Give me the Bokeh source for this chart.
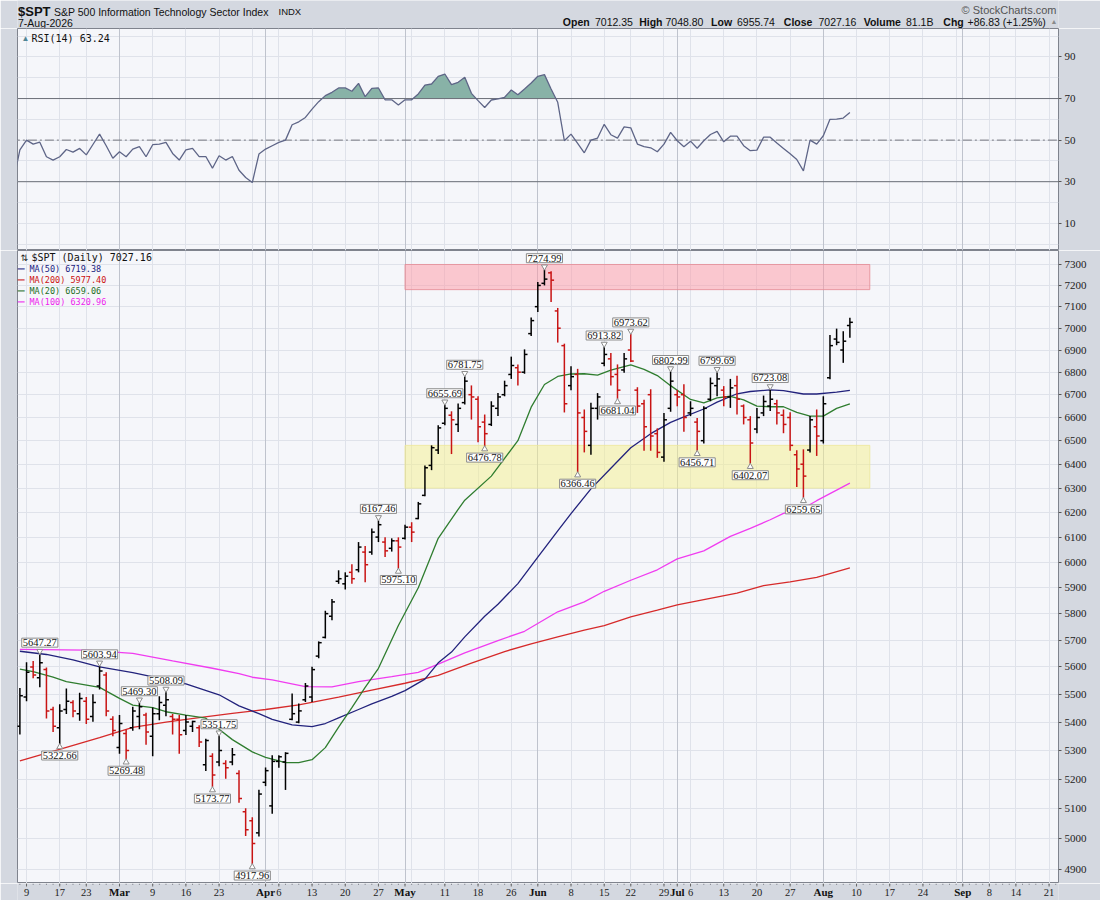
import math
import numpy as np
import pandas as pd
from bokeh.plotting import figure
from bokeh.layouts import column
from bokeh.models import (Range1d, FixedTicker, Grid, Label, ColumnDataSource,
                          NumeralTickFormatter)
from bokeh.core.properties import value
from bokeh.embed import file_html
from bokeh.resources import INLINE

# ---------------------------------------------------------------- data
symbol = "$SPT"
name = "S&P 500 Information Technology Sector Index"
exchange = "INDX"
as_of = "7-Aug-2026"
volume_txt = "81.1B"
holidays = ["2026-02-16", "2026-04-03", "2026-05-25", "2026-06-19",
            "2026-07-03", "2026-09-07"]
first_bar = "02-06"

opens = [5385, 5490, 5600, 5560, 5590, 5445, 5380, 5445, 5470, 5430,
         5475, 5420, 5530, 5570, 5410, 5310, 5360, 5380, 5420, 5425,
         5350, 5430, 5460, 5420, 5410, 5370, 5385, 5380, 5250, 5280,
         5260, 5255, 5260, 5220, 5090, 5060, 5020, 5190, 5110, 5262,
         5260, 5410, 5400, 5480, 5490, 5640, 5710, 5790, 5925, 5915,
         5960, 5970, 6040, 6040, 6100, 6080, 6055, 6085, 6095, 6140,
         6175, 6270, 6395, 6460, 6575, 6610, 6570, 6665, 6700, 6680,
         6580, 6570, 6640, 6700, 6790, 6820, 6800, 6975, 7100, 7210,
         7260, 7080, 6920, 6740, 6790, 6600, 6480, 6640, 6840, 6860,
         6790, 6810, 6900, 6720, 6660, 6700, 6530, 6430, 6640, 6700,
         6700, 6620, 6580, 6500, 6680, 6740, 6720, 6690, 6740, 6650,
         6590, 6550, 6620, 6650, 6660, 6610, 6600, 6440, 6400, 6460,
         6560, 6500, 6775, 6950, 6900, 7012.35]
highs = [5523, 5617, 5622, 5647.27, 5598, 5455, 5464, 5521, 5478, 5505,
         5490, 5500, 5603.94, 5580, 5421, 5425, 5374, 5455, 5469.30, 5433,
         5452, 5493, 5508.09, 5429, 5425, 5425, 5405, 5389, 5341, 5290,
         5351.75, 5266, 5309, 5231, 5102, 5072, 5165, 5241, 5283, 5283,
         5294, 5503, 5467, 5541, 5601, 5695, 5811, 5856, 5968, 5960,
         5992, 6080, 6064, 6135, 6167.46, 6099, 6095, 6099, 6150, 6160,
         6243, 6395, 6480, 6566, 6655.69, 6627, 6661, 6781.75, 6741, 6693,
         6613, 6671, 6707, 6762, 6870, 6835, 6903, 7049, 7216, 7274.99,
         7268, 7094, 6929, 6827, 6815, 6635, 6664, 6707, 6913.82, 6887,
         6835, 6887, 6973.62, 6733, 6678, 6724, 6553, 6620, 6802.99, 6721,
         6746, 6671, 6598, 6649, 6776, 6799.69, 6738, 6770, 6784, 6657,
         6606, 6642, 6696, 6723.08, 6678, 6635, 6623, 6459, 6463, 6606,
         6635, 6693, 6969, 6998, 6986, 7048.80]
lows = [5356, 5475, 5558, 5525, 5413, 5365, 5322.66, 5429, 5417, 5405,
        5393, 5401, 5517, 5421, 5350, 5289, 5269.48, 5369, 5375, 5320,
        5280, 5407, 5421, 5356, 5289, 5354, 5365, 5312, 5229, 5173.77,
        5245, 5202, 5249, 5121, 5010, 4917.96, 5008, 5177, 5084, 5240,
        5164, 5407, 5396, 5472, 5472, 5632, 5706, 5775, 5915, 5893,
        5915, 5960, 5921, 6029, 6080, 6020, 6042, 5975.10, 6090, 6080,
        6172, 6266, 6375, 6443, 6566, 6443, 6537, 6657, 6591, 6493,
        6476.78, 6563, 6606, 6693, 6770, 6741, 6793, 6964, 7075, 7200,
        7122, 6934, 6622, 6720, 6366.46, 6450, 6440, 6591, 6827, 6741,
        6681.04, 6797, 6846, 6620, 6457, 6457, 6427, 6410, 6625, 6649,
        6538, 6606, 6456.71, 6488, 6671, 6693, 6649, 6642, 6613, 6570,
        6402.07, 6532, 6606, 6628, 6570, 6532, 6457, 6305, 6259.65, 6450,
        6435, 6488, 6769, 6922, 6842, 6955.74]
closes = [5495, 5580, 5570, 5615, 5440, 5385, 5440, 5475, 5440, 5485,
          5410, 5470, 5585, 5440, 5370, 5395, 5300, 5440, 5455, 5365,
          5430, 5470, 5480, 5410, 5355, 5400, 5402, 5330, 5335, 5215,
          5300, 5240, 5285, 5135, 5030, 4985, 5150, 5230, 5262, 5278,
          5290, 5430, 5440, 5530, 5590, 5690, 5800, 5845, 5935, 5945,
          5935, 6060, 5990, 6120, 6150, 6045, 6085, 6060, 6140, 6120,
          6235, 6385, 6470, 6555, 6640, 6590, 6640, 6760, 6690, 6560,
          6530, 6650, 6690, 6740, 6830, 6800, 6880, 7035, 7200, 7230,
          7225, 7000, 6660, 6780, 6620, 6540, 6640, 6690, 6880, 6780,
          6720, 6860, 6850, 6650, 6560, 6520, 6450, 6590, 6760, 6690,
          6600, 6640, 6540, 6640, 6750, 6770, 6690, 6730, 6680, 6600,
          6490, 6600, 6670, 6680, 6620, 6570, 6480, 6380, 6350, 6590,
          6520, 6660, 6920, 6935, 6940.33, 7027.16]

rsi_first = "02-05"
rsi = [30.0, 45.3, 50.0, 48.1, 49.0, 42.0, 40.4, 42.0, 45.5, 44.2, 46.0,
       42.9, 47.9, 52.9, 47.3, 41.3, 44.4, 42.0, 45.7, 46.9, 42.0,
       47.8, 48.1, 48.9, 43.6, 40.4, 45.3, 46.0, 42.1, 42.1, 36.5,
       42.5, 40.4, 42.1, 35.5, 32.0, 29.6, 43.3, 45.7, 47.3, 48.9,
       50.0, 57.4, 58.8, 60.9, 64.9, 68.5, 71.4, 73.0, 75.1, 75.1,
       73.5, 77.3, 70.9, 74.9, 75.1, 69.4, 69.4, 66.9, 69.4, 69.4,
       72.2, 76.5, 77.0, 80.7, 81.8, 76.7, 77.8, 80.2, 72.5, 69.0,
       65.7, 69.3, 69.8, 70.6, 74.1, 71.8, 74.6, 77.5, 80.7, 81.5,
       74.6, 68.2, 49.7, 52.9, 48.4, 43.9, 50.0, 51.0, 57.6, 52.6,
       51.0, 56.4, 55.9, 48.1, 46.9, 46.3, 44.4, 48.1, 53.7, 49.7,
       46.8, 49.5, 46.1, 49.7, 52.7, 54.2, 49.2, 51.9, 51.9, 47.3,
       44.9, 45.2, 51.4, 51.4, 48.6, 46.0, 43.4, 40.7, 35.2, 50.0,
       48.1, 52.1, 60.0, 60.1, 60.6, 63.24]

ma50_dates = ["02-06", "02-12", "02-19", "02-25", "03-04", "03-11", "03-16", "03-23",
              "03-26", "03-31", "04-02", "04-08", "04-13", "04-15", "04-17", "04-22",
              "04-24", "04-29", "05-01", "05-06", "05-08", "05-12", "05-14", "05-19",
              "05-21", "05-27", "06-01", "06-04", "06-08", "06-11", "06-16", "06-22",
              "06-25", "06-30", "07-02", "07-08", "07-10", "07-15", "07-17", "07-22",
              "07-24", "07-29", "07-31", "08-05", "08-07"]
ma50_values = [5658, 5646, 5626, 5600, 5579, 5553, 5538, 5498,
               5458, 5430, 5410, 5390, 5384, 5395, 5415, 5445,
               5465, 5492, 5513, 5555, 5615, 5655, 5712, 5790,
               5836, 5916, 6020, 6125, 6195, 6297, 6383, 6470,
               6530, 6579, 6603, 6637, 6667, 6704, 6714, 6721,
               6718, 6703, 6703, 6711, 6719.38]

ma200_dates = ["02-06", "02-18", "02-25", "03-04", "03-11", "03-18", "03-25", "04-01",
               "04-09", "04-17", "04-24", "05-01", "05-08", "05-15", "05-22", "05-29",
               "06-04", "06-10", "06-15", "06-22", "06-26", "07-01", "07-08", "07-15",
               "07-21", "07-27", "07-31", "08-07"]
ma200_values = [5264, 5311, 5345, 5381, 5400, 5416, 5431, 5445,
                5462, 5490, 5515, 5540, 5569, 5614, 5657, 5686,
                5712, 5737, 5754, 5788, 5813, 5834, 5854, 5879,
                5908, 5923, 5940, 5977.40]

ma20_dates = ["02-06", "02-10", "02-13", "02-18", "02-25", "03-02", "03-04", "03-09",
              "03-11", "03-16", "03-19", "03-23", "03-25", "03-30", "04-01", "04-07",
              "04-09", "04-13", "04-15", "04-17", "04-21", "04-23", "04-27", "04-30",
              "05-05", "05-08", "05-13", "05-14", "05-20", "05-27", "05-29", "06-02",
              "06-04", "06-08", "06-10", "06-12", "06-16", "06-22", "06-24", "06-26",
              "06-30", "07-06", "07-08", "07-10", "07-14", "07-16", "07-20", "07-22",
              "07-24", "07-28", "07-30", "08-03", "08-05", "08-07"]
ma20_values = [5592, 5583, 5562, 5546, 5525, 5485, 5461, 5452,
               5437, 5425, 5414, 5375, 5338, 5295, 5276, 5258,
               5258, 5268, 5310, 5382, 5452, 5525, 5595, 5755,
               5900, 6095, 6212, 6250, 6350, 6500, 6645, 6745,
               6781, 6792, 6793, 6787, 6809, 6833, 6813, 6785,
               6740, 6679, 6664, 6686, 6693, 6677, 6650, 6647,
               6647, 6622, 6606, 6606, 6640, 6659.06]

ma100_dates = ["02-06", "02-23", "03-04", "03-12", "03-20", "03-26", "03-30", "04-02",
               "04-10", "04-16", "04-22", "04-29", "05-05", "05-08", "05-14", "05-21",
               "05-28", "06-04", "06-10", "06-15", "06-22", "06-26", "07-01", "07-08",
               "07-14", "07-17", "07-22", "07-24", "07-29", "07-31", "08-07"]
ma100_values = [5665, 5662, 5650, 5622, 5595, 5575, 5562, 5552,
                5528, 5527, 5546, 5564, 5580, 5610, 5652, 5698,
                5733, 5807, 5845, 5886, 5929, 5970, 6013, 6045,
                6103, 6135, 6170, 6196, 6217, 6248, 6320.96]

high_callouts = ["02-11", "02-25", "03-05", "03-11", "03-23", "04-27", "05-11", "05-14",
                 "06-02", "06-15", "06-22", "06-30", "07-10", "07-22"]
low_callouts = ["02-17", "03-03", "03-20", "03-30", "04-30", "05-19", "06-09", "06-17",
                "07-07", "07-17", "07-29"]

resistance_zone = (7180, 7300)
support_zone = (6300, 6480)
zone_from, zone_to = "05-01", "08-12"

tick_dates = ["02-09", "02-17", "02-23", "03-02", "03-09", "03-16", "03-23", "04-01",
              "04-06", "04-13", "04-20", "04-27", "05-01", "05-11", "05-18", "05-26",
              "06-01", "06-08", "06-15", "06-22", "06-29", "07-01", "07-06", "07-13",
              "07-20", "07-27", "08-03", "08-10", "08-17", "08-24", "09-01", "09-08",
              "09-14", "09-21"]
tick_labels = ["9", "17", "23", "Mar", "9", "16", "23", "Apr",
               "6", "13", "20", "27", "May", "11", "18", "26",
               "Jun", "8", "15", "22", "29", "Jul", "6", "13",
               "20", "27", "Aug", "10", "17", "24", "Sep", "8",
               "14", "21"]
unlabeled_week_lines = ["03-30", "05-04", "08-31"]
price_ticks = list(range(4900, 7301, 100))
rsi_ticks = [10, 30, 50, 70, 90]

# ---------------------------------------------------------------- helpers
days = [d.strftime("%Y-%m-%d") for d in pd.bdate_range("2026-02-05", "2026-09-25")]
days = [d for d in days if d not in holidays]
pos = {d: i for i, d in enumerate(days)}


def P(md):
    return pos["2026-" + md]


OUTER = "#d4d8e0"
PLOT_BG = "#f5f6fa"
GRID = "#dfe2ea"
MGRID = "#bfc3cd"
FRAME = "#7f838d"
UP = "#000000"
DOWN = "#c81414"
NARROW = "Liberation Sans Narrow"
SANS = "Liberation Sans"
MONO = "DejaVu Sans Mono"

TOTAL_W = 1100
LEFT_B = 17
RIGHT_B = 42
FW = TOTAL_W - LEFT_B - RIGHT_B
X0 = 0.64
DX = 6.64
xr = Range1d(X0, X0 + FW / DX)

HDR_H = 28
RSI_H = 222
PRICE_H = 633
STRIP_H = 17
Y_LO, Y_HI = 4855.3, 7367.6

week_x = sorted([P(d) for d, t in zip(tick_dates, tick_labels) if not t.isalpha()]
                + [P(d) for d in unlabeled_week_lines])
month_x = [P(d) for d, t in zip(tick_dates, tick_labels) if t.isalpha()]


def panel(h, yr, ytype="linear"):
    f = figure(frame_width=FW, frame_height=h, x_range=xr, y_range=yr,
               y_axis_type=ytype, x_axis_location=None, y_axis_location="right",
               toolbar_location=None, output_backend="svg", title=None,
               min_border_left=LEFT_B, min_border_right=RIGHT_B, min_border_top=0,
               min_border_bottom=0, background_fill_color=PLOT_BG,
               border_fill_color=OUTER, outline_line_color=FRAME)
    f.xgrid.ticker = FixedTicker(ticks=week_x)
    f.xgrid.grid_line_color = GRID
    f.add_layout(Grid(dimension=0, ticker=FixedTicker(ticks=month_x),
                      grid_line_color=MGRID))
    f.ygrid.grid_line_color = GRID
    ax = f.yaxis[0]
    ax.axis_line_color = None
    ax.major_tick_in = 0
    ax.major_tick_out = 3
    ax.major_tick_line_color = "#555555"
    ax.minor_tick_line_color = None
    ax.major_label_standoff = 3
    ax.major_label_text_font = NARROW
    ax.major_label_text_font_size = "11px"
    ax.major_label_text_color = "#222222"
    return f


# ---------------------------------------------------------------- header
# same frame geometry as the panels below; x data units equal page pixels
hdr = figure(frame_width=FW, frame_height=HDR_H, x_range=Range1d(LEFT_B, LEFT_B + FW),
             y_range=Range1d(HDR_H, 0), x_axis_location=None, y_axis_location=None,
             toolbar_location=None, output_backend="svg", title=None,
             min_border_left=LEFT_B, min_border_right=RIGHT_B, min_border_top=0,
             min_border_bottom=0, background_fill_color=OUTER, border_fill_color=OUTER,
             outline_line_color=None)
hdr.grid.visible = False


def htext(x, y, t, size="11px", bold=False, color="#111111", align="left", font=SANS):
    hdr.text(x=[x], y=[y], text=[t], text_font=value(font), text_font_size=size,
             text_font_style="bold" if bold else "normal", text_color=color,
             text_align=align, text_baseline="middle")


htext(17.5, 10.5, symbol, size="13px", bold=True)
htext(53.5, 11, name, size="10.5px")
htext(278, 11, exchange, size="9.5px")
htext(17.5, 22, as_of, size="10.5px")
htext(1056, 9.5, "\u00a9 StockCharts.com", size="11px", color="#555555", align="right")
chg = closes[-1] - closes[-2]
pct = chg / closes[-2] * 100
pairs = [("Open", f"{opens[-1]:.2f}"), ("High", f"{highs[-1]:.2f}"),
         ("Low", f"{lows[-1]:.2f}"), ("Close", f"{closes[-1]:.2f}"),
         ("Volume", volume_txt), ("Chg", f"{chg:+.2f} ({pct:+.2f}%)")]
hdr_x = [(562.3, 594.5), (638.7, 665.0), (710.6, 736.5), (783.3, 818.0),
         (863.2, 905.5), (942.8, 967.0)]
for (lab, val), (xl, xv) in zip(pairs, hdr_x):
    htext(xl, 21.5, lab, size="10.5px", bold=True)
    htext(xv, 21.5, val, size="10.5px")
htext(1050, 21, "\u25b2", size="7px", color="#8a8a8a")

# ---------------------------------------------------------------- RSI panel
rp = panel(RSI_H, Range1d(-3.1, 103.7))
rp.yaxis.ticker = FixedTicker(ticks=rsi_ticks)
rp.ygrid.ticker = FixedTicker(ticks=list(range(0, 101, 10)))

rsi_x = list(range(P(rsi_first), P(rsi_first) + len(rsi)))


def beyond(xs, ys, level, above):
    fx, fy = [], []
    for k in range(len(xs)):
        if k > 0:
            a, b = ys[k - 1], ys[k]
            if (a - level) * (b - level) < 0:
                t = (level - a) / (b - a)
                fx.append(xs[k - 1] + t * (xs[k] - xs[k - 1]))
                fy.append(level)
        fx.append(xs[k])
        fy.append(ys[k])
    fy = np.array(fy, dtype=float)
    return fx, (np.maximum(fy, level) if above else np.minimum(fy, level))


fx, fy = beyond(rsi_x, rsi, 70, True)
rp.varea(x=fx, y1=70, y2=fy, fill_color="#88b2a7", fill_alpha=1.0)
fx, fy = beyond(rsi_x, rsi, 30, False)
rp.varea(x=fx, y1=30, y2=fy, fill_color="#88b2a7", fill_alpha=1.0)
for lvl in (70, 30):
    rp.line(x=[X0 - 1, X0 + FW / DX + 1], y=[lvl, lvl], line_color="#6c6f78", line_width=1)
rp.line(x=[X0 - 1, X0 + FW / DX + 1], y=[50, 50], line_color="#74777f", line_width=1,
        line_dash="9 3 2 3")
rp.line(x=rsi_x, y=rsi, line_color="#5e6587", line_width=1.3)
rp.add_layout(Label(x=4, y=RSI_H - 10, x_units="screen", y_units="screen", text="\u25b2",
                    text_font=SANS, text_font_size="8px", text_color="#4f8595",
                    text_baseline="middle"))
rp.add_layout(Label(x=14, y=RSI_H - 10, x_units="screen", y_units="screen",
                    text=f"RSI(14) {rsi[-1]:.2f}", text_font=MONO,
                    text_font_size="10px", text_color="#111111", text_baseline="middle"))

# ---------------------------------------------------------------- price panel
pp = panel(PRICE_H, Range1d(Y_LO, Y_HI), ytype="log")
pp.yaxis.ticker = FixedTicker(ticks=price_ticks)
pp.yaxis.formatter = NumeralTickFormatter(format="0")
pp.ygrid.ticker = FixedTicker(ticks=price_ticks)

zl, zr = P(zone_from), P(zone_to)
pp.quad(left=zl, right=zr, bottom=resistance_zone[0], top=resistance_zone[1],
        fill_color="#ff98a3", fill_alpha=0.5, line_color="#e58a94", line_alpha=0.8)
pp.quad(left=zl, right=zr, bottom=support_zone[0], top=support_zone[1],
        fill_color="#f6f08c", fill_alpha=0.5, line_color="#ece79a", line_alpha=0.8)

for ds, vs, col in ((ma200_dates, ma200_values, "#d62a2a"),
                    (ma100_dates, ma100_values, "#f03cf0"),
                    (ma50_dates, ma50_values, "#22227c"),
                    (ma20_dates, ma20_values, "#2f7d2f")):
    pp.line(x=[P(d) for d in ds], y=vs, line_color=col, line_width=1.3)

bar_x = list(range(P(first_bar), P(first_bar) + len(closes)))
colors = [UP] + [UP if c >= p else DOWN for p, c in zip(closes[:-1], closes[1:])]
src = ColumnDataSource(dict(x=bar_x, xl=[x - 0.45 for x in bar_x], xr=[x + 0.45 for x in bar_x],
                            o=opens, h=highs, l=lows, c=closes, col=colors))
pp.segment(x0="x", y0="l", x1="x", y1="h", line_color="col", line_width=1.5, source=src)
pp.segment(x0="xl", y0="o", x1="x", y1="o", line_color="col", line_width=1.5, source=src)
pp.segment(x0="x", y0="c", x1="xr", y1="c", line_color="col", line_width=1.5, source=src)

# callouts
ppl = PRICE_H / math.log(Y_HI / Y_LO)
bar_index = {P(first_bar) + k: k for k in range(len(closes))}
hk = [bar_index[P(d)] for d in high_callouts]
lk = [bar_index[P(d)] for d in low_callouts]
pp.scatter(x=[bar_x[k] for k in hk], y=[highs[k] * math.exp(3 / ppl) for k in hk],
           marker="inverted_triangle", size=6, fill_color="white", line_color="#8c8c8c")
pp.scatter(x=[bar_x[k] for k in lk], y=[lows[k] * math.exp(-3 / ppl) for k in lk],
           marker="triangle", size=6, fill_color="white", line_color="#8c8c8c")
pp.text(x=[bar_x[k] for k in hk], y=[highs[k] for k in hk], text=[f"{highs[k]:.2f}" for k in hk],
        text_font=value(NARROW), text_font_size="10.5px", text_color="#111111",
        text_align="center", text_baseline="bottom", y_offset=-7,
        background_fill_color="white", border_line_color="#8c8c8c", padding=1)
pp.text(x=[bar_x[k] for k in lk], y=[lows[k] for k in lk], text=[f"{lows[k]:.2f}" for k in lk],
        text_font=value(NARROW), text_font_size="10.5px", text_color="#111111",
        text_align="center", text_baseline="top", y_offset=7,
        background_fill_color="white", border_line_color="#8c8c8c", padding=1)

# legend
pp.add_layout(Label(x=3, y=PRICE_H - 7, x_units="screen", y_units="screen", text="\u21c5",
                    text_font="DejaVu Sans", text_font_size="9px", text_color="#222222",
                    text_baseline="middle"))
pp.add_layout(Label(x=14, y=PRICE_H - 7, x_units="screen", y_units="screen",
                    text=f"{symbol} (Daily) {closes[-1]:.2f}", text_font=MONO,
                    text_font_size="10px", text_color="#111111", text_baseline="middle"))
legend_rows = [("MA(50)", ma50_values[-1], "#1a1a80"), ("MA(200)", ma200_values[-1], "#cc1111"),
               ("MA(20)", ma20_values[-1], "#1e6e1e"), ("MA(100)", ma100_values[-1], "#ee22ee")]
for r, (lab, v, col) in enumerate(legend_rows):
    yy = PRICE_H - 18 - 11 * r
    pp.add_layout(Label(x=0, y=yy, x_units="screen", y_units="screen", text="\u2501\u2501",
                        text_font=MONO, text_font_size="6px", text_color=col,
                        text_baseline="middle"))
    pp.add_layout(Label(x=12, y=yy, x_units="screen", y_units="screen", text=f"{lab} {v:.2f}",
                        text_font=MONO, text_font_size="8.5px", text_color=col,
                        text_baseline="middle"))

# ---------------------------------------------------------------- date strip
st = figure(frame_width=FW, frame_height=STRIP_H, x_range=xr, y_range=Range1d(STRIP_H, 0),
            x_axis_location=None, y_axis_location=None, toolbar_location=None,
            output_backend="svg", title=None, min_border_left=LEFT_B,
            min_border_right=RIGHT_B, min_border_top=0, min_border_bottom=0,
            background_fill_color=OUTER, border_fill_color=OUTER, outline_line_color=None)
st.grid.visible = False
all_x = list(range(1, len(days)))
st.segment(x0=all_x, y0=[0] * len(all_x), x1=all_x, y1=[1.5] * len(all_x),
           line_color="#8a8d96", line_width=1)
tx = [P(d) for d in tick_dates]
st.segment(x0=tx, y0=[0] * len(tx), x1=tx, y1=[3] * len(tx), line_color="#666666", line_width=1)
day_i = [k for k, t in enumerate(tick_labels) if not t.isalpha()]
mon_i = [k for k, t in enumerate(tick_labels) if t.isalpha()]
st.text(x=[tx[k] for k in day_i], y=[8.5] * len(day_i), text=[tick_labels[k] for k in day_i],
        text_font=value(NARROW), text_font_size="10.5px", text_color="#222222",
        text_align="center", text_baseline="middle")
st.text(x=[tx[k] for k in mon_i], y=[8.5] * len(mon_i), text=[tick_labels[k] for k in mon_i],
        text_font=value(NARROW), text_font_size="11px", text_font_style="bold",
        text_color="#111111", text_align="center", text_baseline="middle")

layout = column(hdr, rp, pp, st, spacing=0)
open("out.html", "w").write(file_html(layout, INLINE))
